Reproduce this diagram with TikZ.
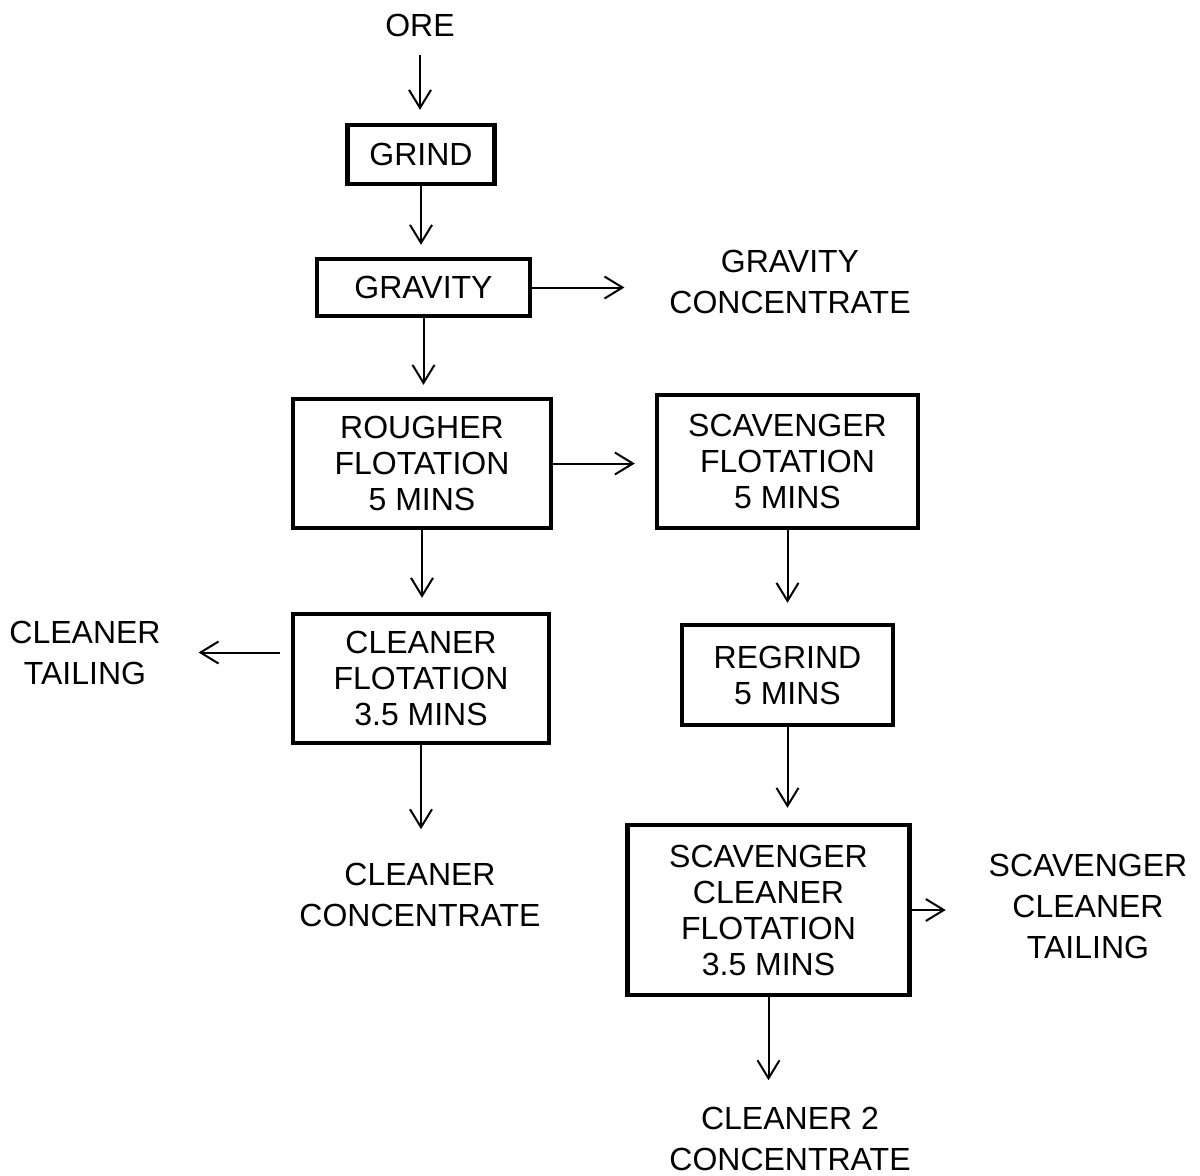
\documentclass[tikz,border=0pt]{standalone}
\usepackage{fontspec}
\setmainfont{Liberation Sans}
\usetikzlibrary{arrows.meta}

\begin{document}
\begin{tikzpicture}[x=0.5pt,y=-0.5pt,->,>={Straight Barb[length=9pt,width=11pt]},line width=1pt,
   stage/.style={draw,line width=2.2pt,align=center,inner sep=0pt,font=\fontsize{16}{18}\selectfont},
   stream/.style={align=center,inner sep=0pt,font=\fontsize{16}{20.5}\selectfont}]
   \useasboundingbox (0,0) rectangle (1200,1175);

   \node[stream] (ore) at (420,25) {ORE};
   \node[stage,minimum width=73.5pt,minimum height=29.5pt] (grind) at (421,154.5) {GRIND};
   \node[stage,minimum width=106.5pt,minimum height=28.5pt] (grav) at (423.5,287.5) {GRAVITY};
   \node[stream] (gcon) at (790,281.5) {GRAVITY\\CONCENTRATE};

   \node[stage,minimum width=129pt,minimum height=64.5pt] (rough) at (422,463.5) {ROUGHER\\FLOTATION\\5 MINS};
   \node[stage,minimum width=130.5pt,minimum height=66.5pt] (scav) at (787.5,461.5) {SCAVENGER\\FLOTATION\\5 MINS};

   \node[stage,minimum width=128pt,minimum height=64.5pt] (clean) at (421,678.5) {CLEANER\\FLOTATION\\3.5 MINS};
   \node[stream] (ctail) at (85,652.5) {CLEANER\\TAILING};
   \node[stream] (ccon) at (420,895) {CLEANER\\CONCENTRATE};

   \node[stage,minimum width=105.5pt,minimum height=50pt] (regrind) at (787.5,675) {REGRIND\\5 MINS};
   \node[stage,minimum width=141pt,minimum height=85pt] (scclean) at (768.5,910) {SCAVENGER\\CLEANER\\FLOTATION\\3.5 MINS};
   \node[stream] (sctail) at (1088,906) {SCAVENGER\\CLEANER\\TAILING};
   \node[stream] (c2con) at (790,1139) {CLEANER 2\\CONCENTRATE};

   % main line
   \draw[shorten <=9pt,shorten >=6.5pt] (ore) -- (ore |- grind.north);
   \draw[shorten >=6pt] (grind) -- (grind |- grav.north);
   \draw[shorten >=22pt] (grav) -- (grav -| gcon.west);
   \draw[shorten >=6pt] (grav) -- (grav |- rough.north);
   \draw[shorten >=10pt] (rough) -- (rough -| scav.west);
   \draw[shorten >=7pt] (rough) -- (rough |- clean.north);
   \draw[shorten <=5.5pt,shorten >=18.5pt] (ctail.east -| clean.west) -- (ctail.east);
   \draw[shorten >=16.5pt] (clean) -- (clean |- ccon.north);

   % scavenger line
   \draw[shorten >=10pt] (scav) -- (scav |- regrind.north);
   \draw[shorten >=7.5pt] (regrind) -- (regrind |- scclean.north);
   \draw[shorten >=21pt] (scclean) -- (scclean -| sctail.west);
   \draw[shorten >=13pt] (scclean) -- (scclean |- c2con.north);
\end{tikzpicture}
\end{document}
